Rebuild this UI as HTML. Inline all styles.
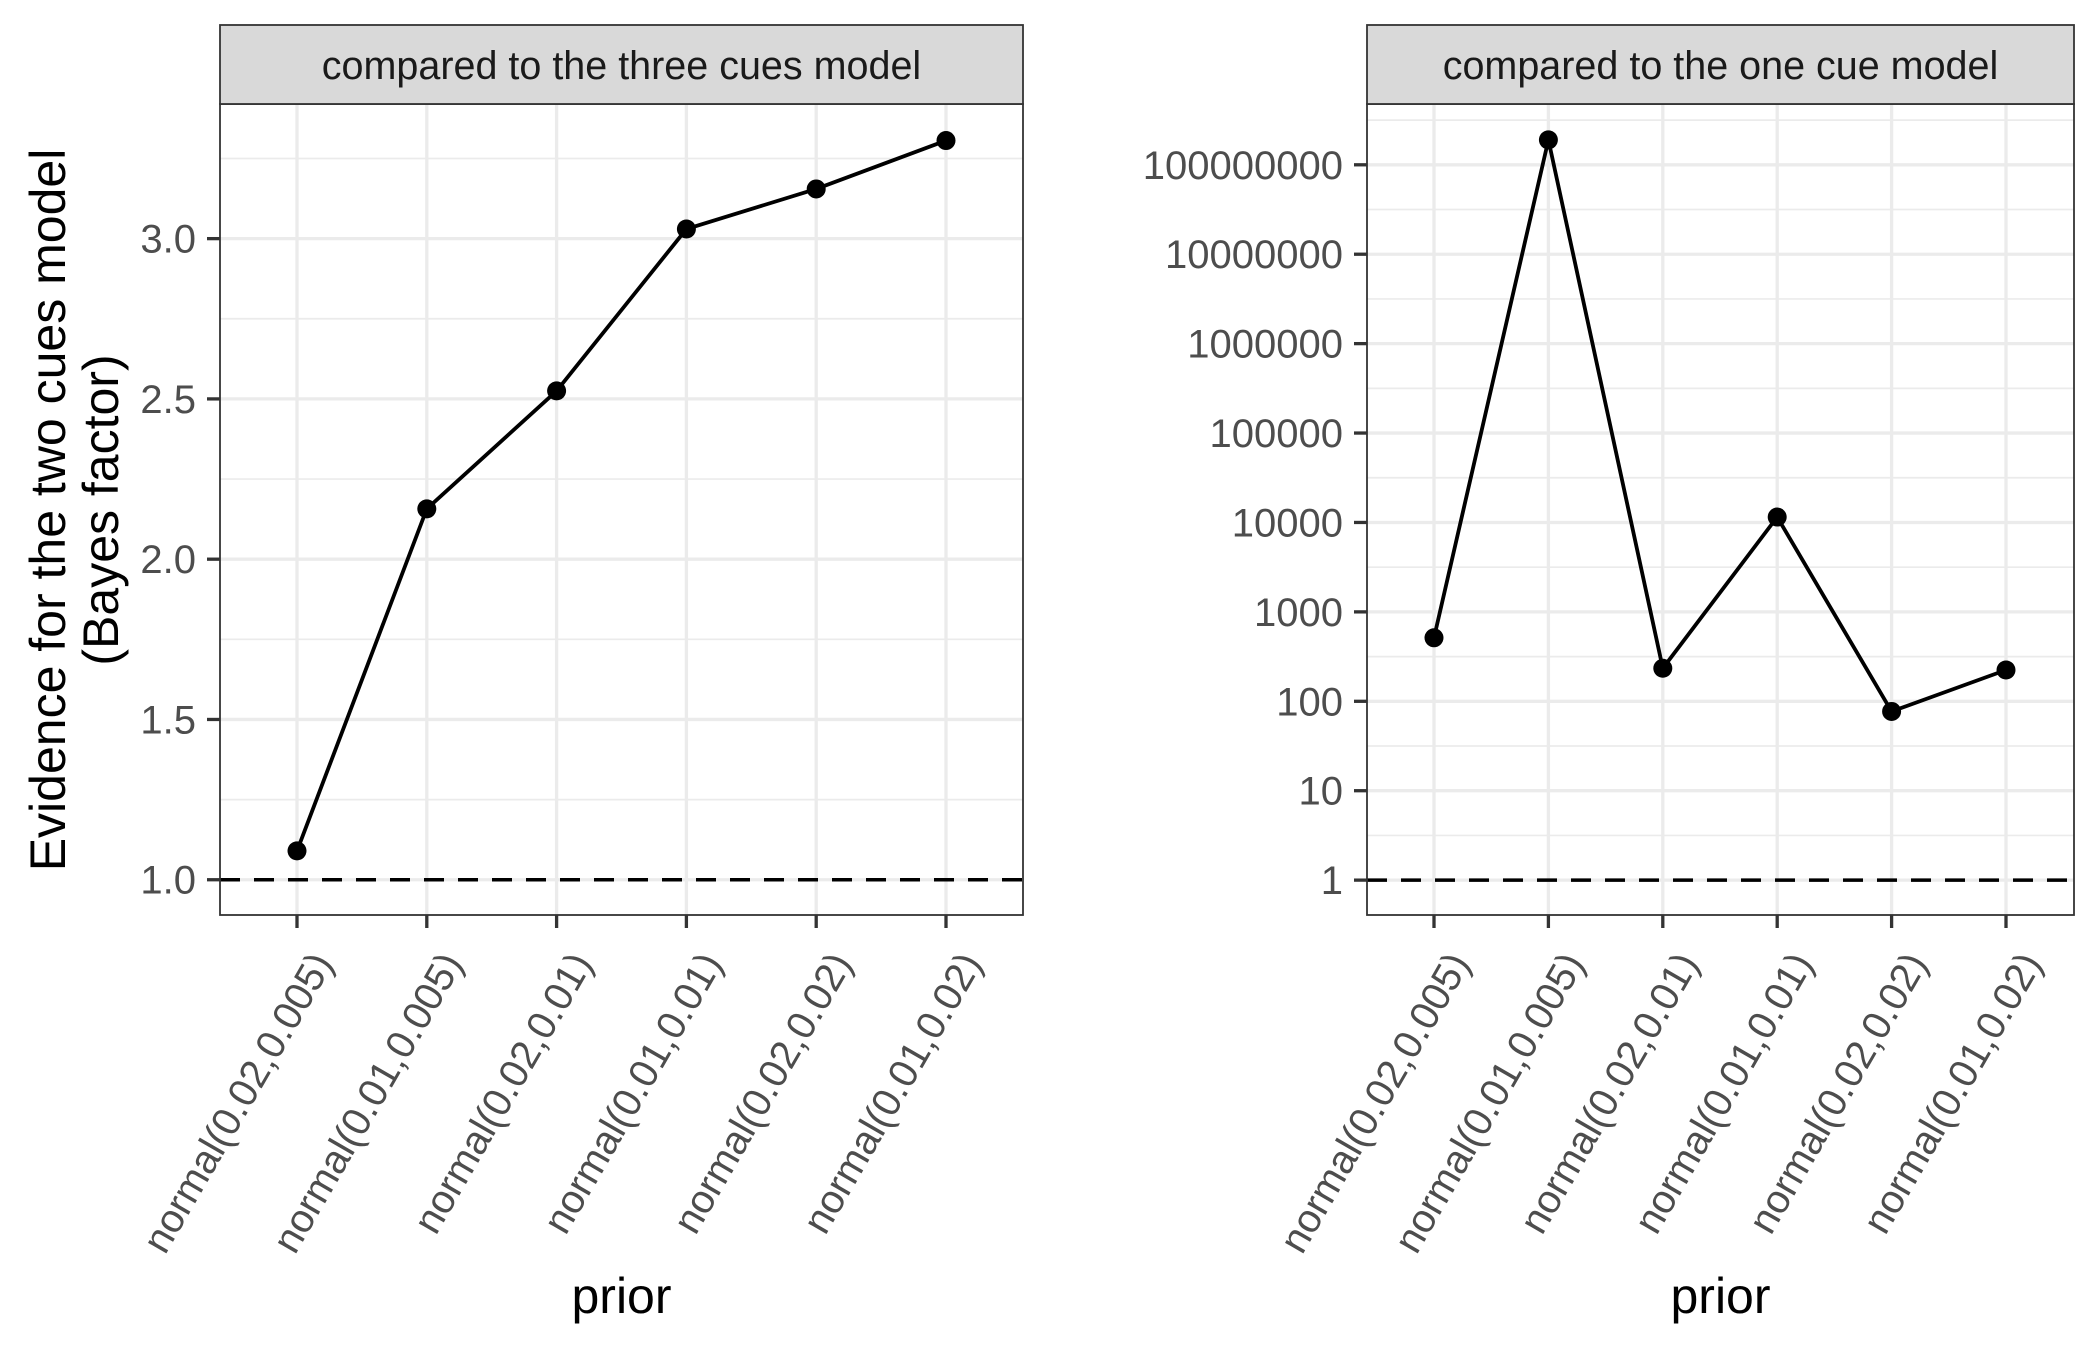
<!DOCTYPE html>
<html><head><meta charset="utf-8">
<style>html,body{margin:0;padding:0;background:#fff}svg{display:block}</style>
</head><body>
<svg id="chart" width="2100" height="1350" viewBox="0 0 2100 1350" xmlns="http://www.w3.org/2000/svg" font-family="Liberation Sans, Arial, sans-serif">
<rect x="0" y="0" width="2100" height="1350" fill="#fff"/>
<g id="root"></g>
</svg>
<script>
const categories = ["normal(0.02,0.005)","normal(0.01,0.005)","normal(0.02,0.01)","normal(0.01,0.01)","normal(0.02,0.02)","normal(0.01,0.02)"];
const threeCuesValues = [1.09, 2.157, 2.525, 3.03, 3.155, 3.306];
const oneCueValues = [513, 190000000, 234, 11500, 77, 224];
const leftTicks = [1.0, 1.5, 2.0, 2.5, 3.0];
const leftTickLabels = ["1.0","1.5","2.0","2.5","3.0"];
const rightTicks = [1,10,100,1000,10000,100000,1000000,10000000,100000000];
const rightTickLabels = ["1","10","100","1000","10000","100000","1000000","10000000","100000000"];

const NS = "http://www.w3.org/2000/svg";
const rootG = document.getElementById('root');
function mk(tag, attrs, parent){const e=document.createElementNS(NS,tag);for(const k in attrs)e.setAttribute(k,attrs[k]);(parent||rootG).appendChild(e);return e;}

const plotTop = 104, plotBottom = 915, stripTop = 25;
const tickFont = 40, titleFont = 50, stripFont = 39.5;

function drawPanel(opt){
  const g = mk('g',{});
  
  
  const L=opt.left,R=opt.right;
  const xs = i => opt.x0 + i*opt.dx;
  const yt = t => plotBottom - (t-opt.tmin)/(opt.tmax-opt.tmin)*(plotBottom-plotTop);
  const ys = v => yt(opt.tf(v));
  opt.minor.forEach(t=>{
    const y = yt(t);
    const l=mk('line',{x1:L,x2:R,y1:y,y2:y,stroke:'#EBEBEB','stroke-width':1.7},g);
    
    
  });
  opt.ticks.forEach(v=>{
    const y=ys(v);
    const l=mk('line',{x1:L,x2:R,y1:y,y2:y,stroke:'#EBEBEB','stroke-width':3.3},g);
    
    
  });
  categories.forEach((c,i)=>{
    const x=xs(i);
    const l=mk('line',{x1:x,x2:x,y1:plotTop,y2:plotBottom,stroke:'#EBEBEB','stroke-width':3.3},g);
    
    
  });
  const y1=ys(1);
  const d=mk('line',{x1:L,x2:R,y1:y1,y2:y1,stroke:'#000','stroke-width':3.6,'stroke-dasharray':'20 14'},g);
  
  
  const pts = opt.values.map((v,i)=>xs(i)+','+ys(v)).join(' ');
  const pl=mk('polyline',{points:pts,fill:'none',stroke:'#000','stroke-width':3.8},g);
  
  
  opt.values.forEach((v,i)=>{
    const p=mk('circle',{cx:xs(i),cy:ys(v),r:9.5,fill:'#000'},g);
    
    
  });
  const b=mk('rect',{x:L,y:plotTop,width:R-L,height:plotBottom-plotTop,fill:'none',stroke:'#333','stroke-width':1.8},g);
  
  
  const s=mk('rect',{x:L,y:stripTop,width:R-L,height:plotTop-stripTop,fill:'#D9D9D9',stroke:'#333','stroke-width':1.8},g);
  
  
  const st=mk('text',{x:(L+R)/2,y:79,'text-anchor':'middle','font-size':stripFont,fill:'#1A1A1A'},g);
  st.textContent=opt.title;
  
  
  opt.ticks.forEach((v,i)=>{
    const y=ys(v);
    const tk=mk('line',{x1:L-13,x2:L,y1:y,y2:y,stroke:'#333','stroke-width':3.3},g);
    
    
    const t=mk('text',{x:L-24,y:y+14,'text-anchor':'end','font-size':tickFont,fill:'#4D4D4D'},g);
    t.textContent=opt.tickLabels[i];
    
    
  });
  categories.forEach((c,i)=>{
    const x=xs(i);
    const tk=mk('line',{x1:x,x2:x,y1:plotBottom,y2:plotBottom+13,stroke:'#333','stroke-width':3.3},g);
    
    
    const ax=x+37, ay=963;
    const t=mk('text',{x:0,y:0,'text-anchor':'end','font-size':tickFont,fill:'#4D4D4D',transform:'translate('+ax+','+ay+') rotate(-60)'},g);
    t.textContent=c;
    
    
  });
  const xt=mk('text',{x:(L+R)/2,y:1313,'text-anchor':'middle','font-size':titleFont,fill:'#000'},g);
  xt.textContent='prior';
  
  
}

drawPanel({name:'panel-three-cues',left:220,right:1023,x0:297,dx:129.8,values:threeCuesValues,
  tf:v=>v,tmin:0.89,tmax:3.42,ticks:leftTicks,tickLabels:leftTickLabels,
  minor:[1.25,1.75,2.25,2.75,3.25],title:'compared to the three cues model'});
drawPanel({name:'panel-one-cue',left:1367,right:2074,x0:1434,dx:114.4,values:oneCueValues,
  tf:v=>Math.log10(v),tmin:-0.39,tmax:8.68,ticks:rightTicks,tickLabels:rightTickLabels,
  minor:[0.5,1.5,2.5,3.5,4.5,5.5,6.5,7.5,8.5],title:'compared to the one cue model'});

const ytitle=mk('text',{'text-anchor':'middle','font-size':titleFont,fill:'#000',transform:'rotate(-90)'});


const t1=mk('tspan',{x:-510,y:65},ytitle); t1.textContent='Evidence for the two cues model';


const t2=mk('tspan',{x:-510,y:118},ytitle); t2.textContent='(Bayes factor)';


</script>
</body></html>
